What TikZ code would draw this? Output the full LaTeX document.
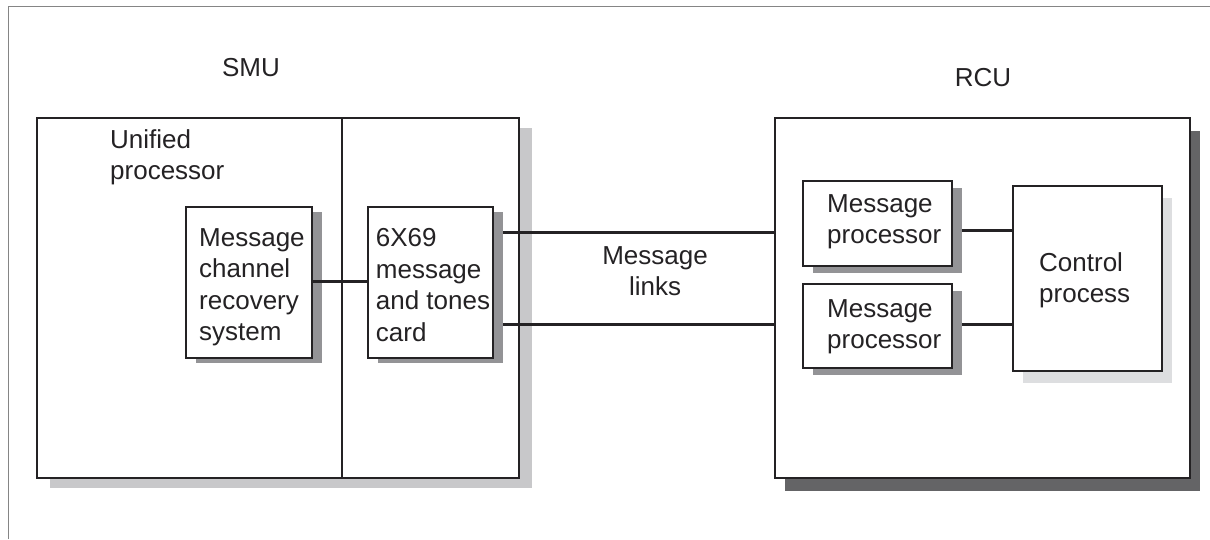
\documentclass[tikz,border=0pt]{standalone}
\usepackage{fontspec}
\setmainfont{Liberation Sans}
\newcommand\lblfont{\fontsize{26}{31.5}\selectfont}
\definecolor{ink}{HTML}{242224}
\definecolor{framegray}{HTML}{858585}
\definecolor{shlight}{HTML}{C8C8CA}
\definecolor{shmid}{HTML}{939396}
\definecolor{shdark}{HTML}{646466}
\definecolor{shpale}{HTML}{DDDEE0}
\begin{document}
\begin{tikzpicture}[x=1pt,y=-1pt,
  box/.style={draw=ink, line width=2pt, fill=white, inner sep=0pt, outer sep=0pt},
  lbl/.style={font=\lblfont, align=left, inner sep=0pt, anchor=north west, text=ink},
  title/.style={font=\lblfont, inner sep=0pt, anchor=base, text=ink},
  link/.style={draw=ink, line width=3pt},
  shadow/.style 2 args={fill=#1, shift={#2}}]
\useasboundingbox (0,0) rectangle (1210,539);

% page frame (top and left edges only)
\draw[framegray, line width=1.3pt] (8.5,539) -- (8.5,6.5) -- (1210,6.5);

% helper coordinates for connector heights and the divider
\coordinate (divx) at (342,0);
\coordinate (l1) at (0,232.5);
\coordinate (l2) at (0,324.5);
\coordinate (c1) at (0,230);
\coordinate (c2) at (0,324.2);
\coordinate (mc) at (0,281);

% titles
\node[title] (smulbl) at (251,76) {SMU};
\node[title] (rculbl) at (983,86.6) {RCU};

% SMU outer box
\fill[shlight] (50,128) rectangle (532,488);
\node[box, minimum width=482pt, minimum height=360pt] (smu) at (278,298) {};
\draw[ink, line width=2pt] (smu.north -| divx) -- (smu.south -| divx);
\node[lbl] (uplbl) at (110,129.4) {Unified\\processor};

% RCU outer box
\fill[shdark] (785,130.5) rectangle (1200.3,491.2);
\node[box, minimum width=415.3pt, minimum height=360.7pt] (rcu) at (982.6,297.9) {};

% inner boxes
\node[box, minimum width=125.6pt, minimum height=151pt] (mtc) at (430.6,282.5) {};
\node[box, minimum width=149.3pt, minimum height=84.7pt] (mp1) at (877.4,223.4) {};
\node[box, minimum width=149.3pt, minimum height=84.9pt] (mp2) at (877.4,326) {};
\node[box, minimum width=149.5pt, minimum height=185pt] (cp) at (1087.5,278.8) {};

% message links and processor connections
\draw[link] (mtc.east |- l1) -- (rcu.west |- l1);
\draw[link] (mtc.east |- l2) -- (rcu.west |- l2);
\draw[link] (mp1.east |- c1) -- (cp.west |- c1);
\draw[link] (mp2.east |- c2) -- (cp.west |- c2);

% shadows of the inner boxes, then the boxes again on top
\fill[shmid] ([shift={(10,5)}]mtc.south west) rectangle ([shift={(10,5)}]mtc.north east);
\fill[shmid] ([shift={(10,7)}]mp1.south west) rectangle ([shift={(10,7)}]mp1.north east);
\fill[shmid] ([shift={(10,7)}]mp2.south west) rectangle ([shift={(10,7)}]mp2.north east);
\fill[shpale] ([shift={(10,12)}]cp.south west) rectangle ([shift={(10,12)}]cp.north east);
\node[box, minimum width=125.6pt, minimum height=151pt] (mtcb) at (mtc) {};
\node[box, minimum width=149.3pt, minimum height=84.7pt] (mp1b) at (mp1) {};
\node[box, minimum width=149.3pt, minimum height=84.9pt] (mp2b) at (mp2) {};
\node[box, minimum width=149.5pt, minimum height=185pt] (cpb) at (cp) {};

% recovery system box
\node[box, minimum width=126pt, minimum height=151pt] (mcrs) at (249,282.5) {};
\fill[shmid] ([shift={(10,5)}]mcrs.south west) rectangle ([shift={(10,5)}]mcrs.north east);
\node[box, minimum width=126pt, minimum height=151pt] (mcrsb) at (mcrs) {};
\draw[link] (mcrsb.east |- mc) -- (mtcb.west |- mc);

% box texts
\node[lbl] (mcrslbl) at (199,228.4) {Message\\channel\\recovery\\system};
\node[lbl] (mtclbl) at (375.7,228.4) {6X69\\message\\and tones\\card};
\node[lbl] (mp1lbl) at (827,194.4) {Message\\processor};
\node[lbl] (mp2lbl) at (827,299.4) {Message\\processor};
\node[lbl] (cplbl) at (1039,252.4) {Control\\process};
\node[font=\lblfont, align=center, inner sep=0pt, anchor=north, text=ink] (mllbl) at (655,246.4) {Message\\links};
\end{tikzpicture}
\end{document}
